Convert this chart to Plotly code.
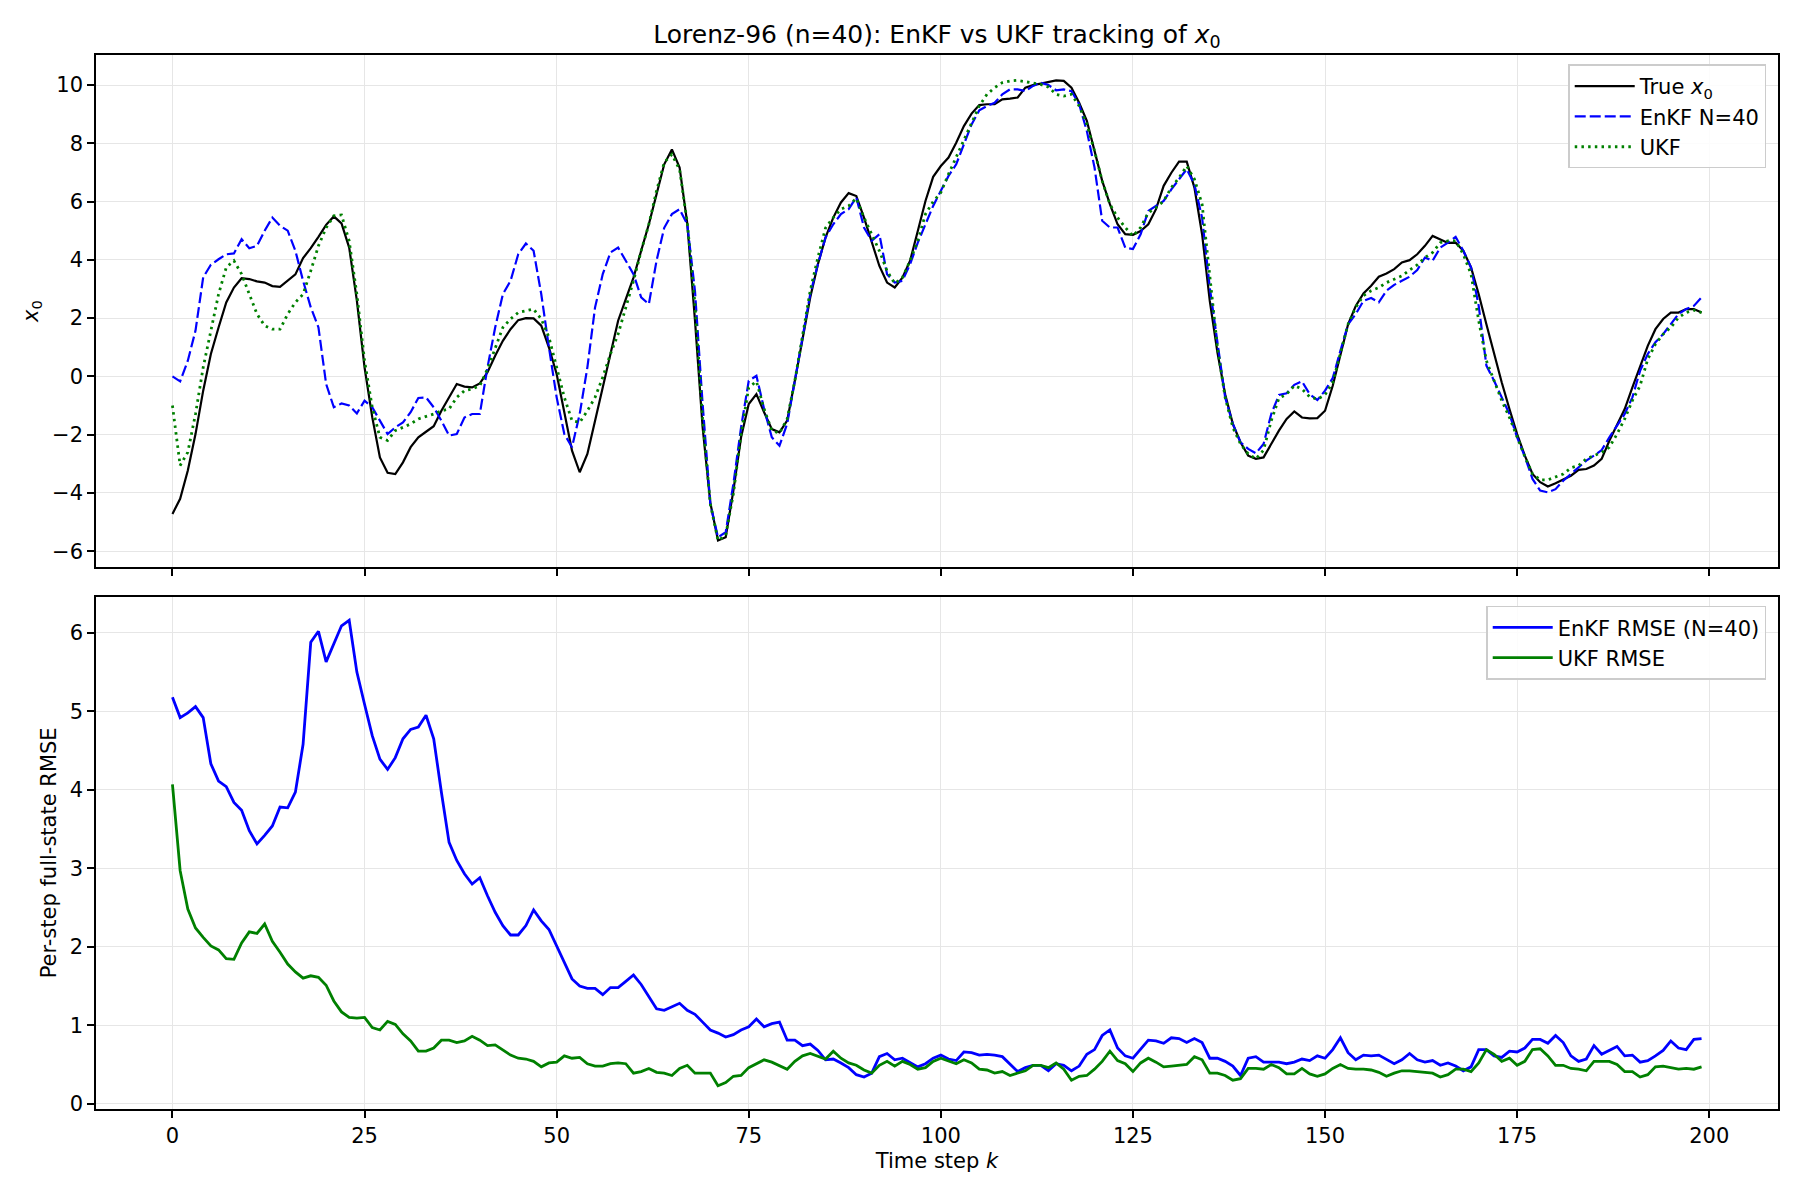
import plotly.graph_objects as go

# ---------------- data ----------------
k = list(range(200))

true_x0 = [
    -4.72, -4.20, -3.23, -1.98, -0.49, 0.77, 1.68, 2.54, 3.05, 3.37,
    3.34, 3.26, 3.22, 3.10, 3.07, 3.28, 3.50, 4.06, 4.40, 4.79,
    5.20, 5.49, 5.25, 4.42, 2.60, 0.31, -1.40, -2.78, -3.31, -3.35,
    -2.95, -2.43, -2.09, -1.90, -1.71, -1.18, -0.72, -0.26, -0.35, -0.38,
    -0.24, 0.14, 0.71, 1.22, 1.62, 1.93, 2.00, 1.99, 1.74, 0.99,
    0.08, -1.29, -2.55, -3.29, -2.66, -1.52, -0.38, 0.77, 1.91, 2.65,
    3.39, 4.31, 5.22, 6.25, 7.28, 7.79, 7.17, 5.25, 1.93, -1.75,
    -4.34, -5.63, -5.52, -3.92, -2.09, -0.95, -0.61, -1.23, -1.81, -1.92,
    -1.52, -0.15, 1.34, 2.71, 3.85, 4.77, 5.45, 5.97, 6.29, 6.19,
    5.45, 4.65, 3.79, 3.22, 3.05, 3.39, 3.97, 4.99, 6.02, 6.85,
    7.22, 7.51, 8.02, 8.59, 9.02, 9.31, 9.34, 9.34, 9.51, 9.53,
    9.57, 9.91, 10.00, 10.05, 10.10, 10.16, 10.14, 9.91, 9.39, 8.77,
    7.74, 6.71, 5.91, 5.22, 4.88, 4.86, 4.99, 5.22, 5.74, 6.54,
    6.99, 7.37, 7.37, 6.48, 4.88, 2.59, 0.82, -0.61, -1.63, -2.26,
    -2.72, -2.83, -2.78, -2.32, -1.86, -1.46, -1.20, -1.41, -1.44, -1.43,
    -1.18, -0.32, 0.77, 1.79, 2.42, 2.85, 3.11, 3.42, 3.53, 3.68,
    3.91, 3.99, 4.19, 4.48, 4.82, 4.71, 4.58, 4.59, 4.31, 3.74,
    2.82, 1.79, 0.77, -0.21, -1.12, -1.98, -2.72, -3.35, -3.63, -3.78,
    -3.67, -3.55, -3.41, -3.21, -3.18, -3.06, -2.83, -2.21, -1.69, -1.12,
    -0.38, 0.37, 1.05, 1.62, 1.97, 2.19, 2.19, 2.31, 2.31, 2.19,
]

enkf_x0 = [
    0.00, -0.17, 0.54, 1.57, 3.40, 3.83, 4.02, 4.19, 4.22, 4.71,
    4.40, 4.48, 5.00, 5.45, 5.17, 5.00, 4.31, 3.28, 2.37, 1.68,
    -0.26, -1.06, -0.93, -1.00, -1.27, -0.83, -1.06, -1.52, -1.98, -1.75,
    -1.58, -1.23, -0.74, -0.72, -1.06, -1.52, -2.03, -1.98, -1.41, -1.29,
    -1.29, 0.31, 1.68, 2.82, 3.28, 4.19, 4.56, 4.31, 2.82, 0.99,
    -0.72, -1.98, -2.43, -1.29, 0.31, 2.37, 3.51, 4.25, 4.42, 3.97,
    3.51, 2.71, 2.48, 3.97, 5.10, 5.57, 5.74, 5.22, 2.94, -0.95,
    -4.38, -5.52, -5.35, -3.69, -1.75, -0.15, 0.02, -1.12, -2.09, -2.38,
    -1.63, -0.15, 1.34, 2.82, 3.85, 4.77, 5.22, 5.57, 5.74, 6.14,
    5.11, 4.65, 4.88, 3.51, 3.22, 3.28, 3.85, 4.59, 5.22, 5.85,
    6.37, 6.88, 7.28, 7.97, 8.65, 9.13, 9.28, 9.39, 9.68, 9.85,
    9.85, 9.79, 9.97, 10.08, 10.00, 9.82, 9.85, 9.79, 9.34, 8.42,
    7.17, 5.34, 5.11, 5.11, 4.42, 4.37, 4.88, 5.68, 5.85, 6.02,
    6.42, 6.77, 7.11, 6.59, 5.45, 3.05, 1.11, -0.72, -1.63, -2.26,
    -2.49, -2.64, -2.32, -1.29, -0.64, -0.58, -0.29, -0.17, -0.61, -0.81,
    -0.49, -0.06, 0.88, 1.79, 2.14, 2.59, 2.69, 2.54, 2.94, 3.14,
    3.28, 3.42, 3.65, 4.08, 3.97, 4.42, 4.59, 4.79, 4.31, 3.74,
    2.42, 0.37, -0.15, -0.72, -1.29, -2.09, -2.75, -3.52, -3.92, -3.98,
    -3.87, -3.58, -3.35, -3.12, -2.89, -2.72, -2.53, -2.09, -1.69, -1.29,
    -0.72, 0.19, 0.77, 1.17, 1.45, 1.79, 2.14, 2.31, 2.42, 2.71,
]

ukf_x0 = [
    -1.00, -3.06, -2.60, -1.29, 0.31, 1.57, 2.82, 3.74, 3.97, 3.51,
    2.82, 2.14, 1.74, 1.62, 1.62, 2.14, 2.54, 2.82, 3.62, 4.48,
    5.10, 5.51, 5.54, 4.65, 2.82, 0.54, -1.06, -2.09, -2.20, -1.86,
    -1.75, -1.63, -1.46, -1.38, -1.29, -1.18, -1.12, -0.72, -0.49, -0.43,
    -0.32, 0.25, 0.99, 1.68, 1.97, 2.19, 2.25, 2.31, 1.97, 1.34,
    0.31, -0.72, -1.52, -1.58, -1.18, -0.72, -0.03, 0.77, 1.45, 2.37,
    3.28, 4.31, 5.22, 6.37, 7.34, 7.62, 7.10, 5.28, 2.48, -1.46,
    -4.38, -5.63, -5.46, -4.03, -1.98, -0.38, -0.17, -1.12, -1.86, -1.95,
    -1.46, -0.15, 1.39, 2.94, 4.08, 5.10, 5.45, 5.74, 5.85, 6.11,
    5.45, 4.88, 4.31, 3.62, 3.19, 3.39, 3.97, 4.65, 5.57, 6.00,
    6.31, 6.94, 7.51, 8.08, 8.65, 9.28, 9.68, 9.91, 10.08, 10.14,
    10.16, 10.11, 10.07, 10.02, 9.93, 9.68, 9.62, 9.68, 9.28, 8.65,
    7.74, 6.71, 5.91, 5.45, 5.11, 4.82, 5.11, 5.62, 5.79, 6.02,
    6.48, 6.82, 7.22, 6.77, 5.91, 3.39, 0.99, -0.72, -1.75, -2.32,
    -2.66, -2.83, -2.53, -1.52, -0.75, -0.61, -0.32, -0.43, -0.70, -0.78,
    -0.63, -0.21, 0.77, 1.79, 2.37, 2.77, 2.94, 3.05, 3.22, 3.34,
    3.45, 3.65, 3.83, 4.08, 4.25, 4.59, 4.65, 4.65, 4.19, 3.51,
    1.91, 0.54, -0.15, -0.83, -1.41, -2.09, -2.75, -3.35, -3.55, -3.55,
    -3.46, -3.35, -3.14, -3.06, -2.83, -2.72, -2.61, -2.43, -1.98, -1.46,
    -0.83, -0.32, 0.59, 1.11, 1.45, 1.68, 2.02, 2.19, 2.27, 2.19,
]

enkf_rmse = [
    5.18, 4.92, 4.98, 5.06, 4.92, 4.33, 4.11, 4.04, 3.84, 3.74,
    3.48, 3.31, 3.42, 3.54, 3.78, 3.77, 3.97, 4.58, 5.88, 6.02,
    5.63, 5.86, 6.09, 6.16, 5.50, 5.09, 4.69, 4.39, 4.26, 4.41,
    4.65, 4.77, 4.80, 4.95, 4.65, 3.97, 3.33, 3.10, 2.93, 2.80,
    2.88, 2.65, 2.44, 2.27, 2.15, 2.15, 2.27, 2.47, 2.33, 2.22,
    2.01, 1.82, 1.59, 1.50, 1.47, 1.47, 1.39, 1.48, 1.48, 1.56,
    1.64, 1.52, 1.36, 1.21, 1.19, 1.24, 1.28, 1.19, 1.14, 1.04,
    0.94, 0.90, 0.85, 0.88, 0.94, 0.98, 1.08, 0.98, 1.02, 1.04,
    0.81, 0.81, 0.74, 0.76, 0.68, 0.56, 0.57, 0.52, 0.46, 0.37,
    0.34, 0.39, 0.60, 0.64, 0.56, 0.58, 0.53, 0.47, 0.51, 0.58,
    0.62, 0.57, 0.55, 0.66, 0.65, 0.62, 0.63, 0.62, 0.60, 0.50,
    0.41, 0.46, 0.49, 0.49, 0.42, 0.51, 0.49, 0.42, 0.48, 0.63,
    0.69, 0.87, 0.94, 0.71, 0.61, 0.58, 0.69, 0.81, 0.80, 0.77,
    0.84, 0.83, 0.78, 0.83, 0.78, 0.58, 0.58, 0.54, 0.48, 0.36,
    0.58, 0.60, 0.53, 0.53, 0.53, 0.51, 0.53, 0.57, 0.55, 0.61,
    0.58, 0.69, 0.84, 0.65, 0.56, 0.62, 0.61, 0.62, 0.56, 0.51,
    0.56, 0.64, 0.56, 0.53, 0.55, 0.49, 0.52, 0.48, 0.42, 0.47,
    0.69, 0.69, 0.61, 0.59, 0.67, 0.66, 0.71, 0.82, 0.82, 0.77,
    0.87, 0.78, 0.61, 0.54, 0.57, 0.74, 0.63, 0.68, 0.73, 0.61,
    0.62, 0.53, 0.55, 0.61, 0.68, 0.80, 0.71, 0.69, 0.82, 0.83,
]

ukf_rmse = [
    4.07, 2.97, 2.48, 2.24, 2.12, 2.01, 1.96, 1.85, 1.84, 2.05,
    2.19, 2.17, 2.29, 2.07, 1.93, 1.78, 1.68, 1.60, 1.63, 1.61,
    1.51, 1.31, 1.17, 1.10, 1.09, 1.10, 0.97, 0.94, 1.05, 1.01,
    0.89, 0.80, 0.67, 0.67, 0.71, 0.81, 0.81, 0.78, 0.80, 0.86,
    0.81, 0.74, 0.75, 0.68, 0.62, 0.58, 0.57, 0.54, 0.47, 0.52,
    0.53, 0.61, 0.58, 0.59, 0.51, 0.48, 0.48, 0.51, 0.52, 0.51,
    0.39, 0.41, 0.45, 0.40, 0.39, 0.36, 0.45, 0.49, 0.39, 0.39,
    0.39, 0.23, 0.27, 0.35, 0.36, 0.46, 0.51, 0.56, 0.53, 0.49,
    0.44, 0.54, 0.61, 0.64, 0.60, 0.57, 0.67, 0.58, 0.52, 0.49,
    0.43, 0.39, 0.49, 0.54, 0.48, 0.54, 0.50, 0.44, 0.46, 0.54,
    0.58, 0.54, 0.51, 0.56, 0.52, 0.44, 0.43, 0.39, 0.41, 0.36,
    0.39, 0.42, 0.49, 0.49, 0.46, 0.52, 0.44, 0.30, 0.35, 0.36,
    0.44, 0.54, 0.67, 0.55, 0.51, 0.41, 0.52, 0.58, 0.53, 0.47,
    0.48, 0.49, 0.50, 0.60, 0.56, 0.39, 0.39, 0.36, 0.30, 0.32,
    0.45, 0.45, 0.44, 0.50, 0.46, 0.38, 0.38, 0.45, 0.38, 0.35,
    0.38, 0.45, 0.50, 0.45, 0.44, 0.44, 0.43, 0.40, 0.35, 0.39,
    0.42, 0.42, 0.41, 0.40, 0.39, 0.34, 0.37, 0.44, 0.44, 0.41,
    0.52, 0.69, 0.63, 0.54, 0.58, 0.49, 0.54, 0.69, 0.70, 0.61,
    0.49, 0.49, 0.45, 0.44, 0.42, 0.54, 0.54, 0.54, 0.50, 0.41,
    0.41, 0.34, 0.37, 0.47, 0.48, 0.46, 0.44, 0.45, 0.44, 0.47,
]

x_ticks = [0, 25, 50, 75, 100, 125, 150, 175, 200]
top_y_ticks = [-6, -4, -2, 0, 2, 4, 6, 8, 10]
bot_y_ticks = [0, 1, 2, 3, 4, 5, 6]

for arr in (true_x0, enkf_x0, ukf_x0, enkf_rmse, ukf_rmse):
    assert len(arr) == 200, len(arr)

# ---------------- figure ----------------
FONT = "DejaVu Sans"
GRID = "#e6e6e6"

fig = go.Figure()

fig.add_trace(go.Scatter(x=k, y=true_x0, mode="lines", name="True <i>x</i><sub>0</sub>",
                         line=dict(color="black", width=2.2), xaxis="x", yaxis="y", legend="legend"))
fig.add_trace(go.Scatter(x=k, y=enkf_x0, mode="lines", name="EnKF N=40",
                         line=dict(color="#0000ff", width=2.2, dash="11px,4px"), xaxis="x", yaxis="y", legend="legend"))
fig.add_trace(go.Scatter(x=k, y=ukf_x0, mode="lines", name="UKF",
                         line=dict(color="#008000", width=2.8, dash="2.5px,4.2px"), xaxis="x", yaxis="y", legend="legend"))

fig.add_trace(go.Scatter(x=k, y=enkf_rmse, mode="lines", name="EnKF RMSE (N=40)",
                         line=dict(color="#0000ff", width=2.8), xaxis="x2", yaxis="y2", legend="legend2"))
fig.add_trace(go.Scatter(x=k, y=ukf_rmse, mode="lines", name="UKF RMSE",
                         line=dict(color="#008000", width=2.8), xaxis="x2", yaxis="y2", legend="legend2"))

axis_common = dict(
    showline=True, linecolor="black", linewidth=1.6, mirror=True,
    ticks="outside", ticklen=7, tickwidth=1.6, tickcolor="black",
    showgrid=True, gridcolor=GRID, gridwidth=1.2, zeroline=False,
    tickfont=dict(family=FONT, size=21, color="black"),
)

legend_common = dict(
    bgcolor="rgba(255,255,255,0.85)", bordercolor="#cccccc", borderwidth=1.5,
    font=dict(family=FONT, size=21, color="black"),
    xanchor="right", yanchor="top", xref="paper", yref="paper",
    tracegroupgap=0, itemwidth=60,
)

fig.update_layout(
    width=1800, height=1200,
    paper_bgcolor="white", plot_bgcolor="white",
    margin=dict(l=96, r=22, t=55, b=91),
    font=dict(family=FONT, size=21, color="black"),
    title=dict(text="Lorenz-96 (n=40): EnKF vs UKF tracking of <i>x</i><sub>0</sub>",
               font=dict(family=FONT, size=25, color="black"),
               x=0.5, xref="paper", xanchor="center",
               y=1 - 34 / 1200, yref="container", yanchor="middle"),
    xaxis=dict(domain=[0, 1], anchor="y", range=[-9.95, 208.95],
               tickvals=x_ticks, showticklabels=False, **axis_common),
    yaxis=dict(domain=[0.514, 1], anchor="x", range=[-6.55, 11.03],
               tickvals=top_y_ticks,
               title=dict(text="<i>x</i><sub>0</sub>", font=dict(family=FONT, size=21), standoff=8),
               **axis_common),
    xaxis2=dict(domain=[0, 1], anchor="y2", range=[-9.95, 208.95], matches="x",
                tickvals=x_ticks,
                title=dict(text="Time step <i>k</i>", font=dict(family=FONT, size=21), standoff=6),
                **axis_common),
    yaxis2=dict(domain=[0, 0.486], anchor="x2", range=[-0.067, 6.46],
                tickvals=bot_y_ticks,
                title=dict(text="Per-step full-state RMSE", font=dict(family=FONT, size=21), standoff=7),
                **axis_common),
    legend=dict(x=0.993, y=0.991, **legend_common),
    legend2=dict(x=0.993, y=0.4775, **legend_common),
    showlegend=True,
)

fig.write_html("out.html")
